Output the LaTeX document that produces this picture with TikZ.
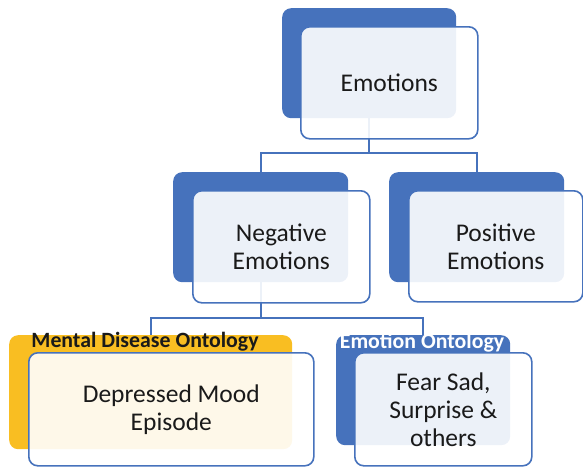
\documentclass[tikz,border=0pt]{standalone}
\usepackage{fontspec}
\setmainfont{Carlito}
\usetikzlibrary{backgrounds}
\definecolor{ublue}{HTML}{4672BC}
\definecolor{uyellow}{HTML}{F9BE22}
\definecolor{ink}{HTML}{1A1A1A}

\begin{document}
\begin{tikzpicture}[x=1pt,y=-1pt,
  backbox/.style={draw=none, rounded corners=9pt, anchor=north west, inner sep=0pt, fill=ublue},
  frontbox/.style={draw=ublue, line width=1.6pt, fill=white, fill opacity=0.9, text opacity=1,
    rounded corners=9pt, anchor=north west, inner sep=0pt, align=center, text=ink,
    font=\fontsize{25.5}{28}\selectfont},
  conn/.style={draw=ublue, line width=1.6pt},
  boxtitle/.style={font=\bfseries\fontsize{21.8}{24}\selectfont, inner sep=0pt, anchor=base}]

\useasboundingbox (0,0) rectangle (583,466);

% back plates
\node[backbox, minimum width=174pt, minimum height=110pt] (emoB) at (282,8) {};
\node[backbox, minimum width=175pt, minimum height=110pt] (negB) at (173,172) {};
\node[backbox, minimum width=175pt, minimum height=110pt] (posB) at (389,172) {};
\node[backbox, fill=uyellow, minimum width=283pt, minimum height=114pt] (menB) at (9,335) {};
\node[backbox, minimum width=174pt, minimum height=110pt] (ontB) at (336,335) {};

% plate headings
\node[boxtitle, text=ink] (menT) at (145,347) {Mental Disease Ontology};
\node[boxtitle, text=white] (ontT) at (422,348) {Emotion Ontology};

% translucent front cards
\node[frontbox, minimum width=177pt, minimum height=112pt] (emoF) at (300,26) {Emotions};
\node[frontbox, minimum width=177pt, minimum height=112pt] (negF) at (192,190) {Negative\\Emotions};
\node[frontbox, minimum width=174pt, minimum height=111pt] (posF) at (408,190) {Positive\\Emotions};
\node[frontbox, minimum width=285pt, minimum height=113pt] (menF) at (28,352) {Depressed Mood\\Episode};
\node[frontbox, minimum width=177pt, minimum height=113pt] (ontF) at (354,352) {Fear Sad,\\Surprise \&\\others};

% tree connectors behind everything
\coordinate (bus1) at (0,153);
\coordinate (bus2) at (0,318);
\begin{pgfonlayer}{background}
  \draw[conn] (emoB.south) -- (emoB.south |- bus1) -| (negB.north);
  \draw[conn] (emoB.south |- bus1) -| (posB.north);
  \draw[conn] (negB.south) -- (negB.south |- bus2) -| (menB.north);
  \draw[conn] (negB.south |- bus2) -| (ontB.north);
\end{pgfonlayer}
\end{tikzpicture}
\end{document}
